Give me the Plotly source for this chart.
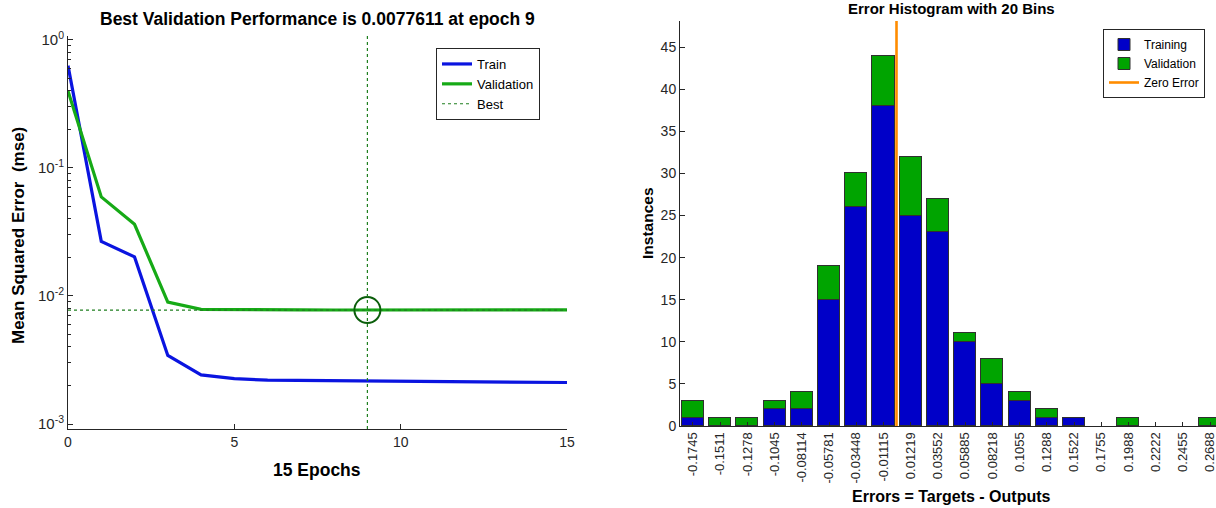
import plotly.graph_objects as go

# ---- training record (performance plot) ----
epochs = list(range(16))
train_mse = [0.63, 0.0267, 0.0202, 0.00343, 0.00242, 0.00226, 0.00220, 0.00219,
             0.00218, 0.00217, 0.00216, 0.00215, 0.00214, 0.00213, 0.00212, 0.00211]
val_mse = [0.40, 0.0594, 0.0363, 0.00896, 0.00786, 0.00781, 0.00779, 0.00778,
           0.00777, 0.0077611, 0.00777, 0.00778, 0.00778, 0.00779, 0.00779, 0.00780]
best_epoch = 9
best_val = 0.0077611

# ---- error histogram ----
bin_labels = ["-0.1745", "-0.1511", "-0.1278", "-0.1045", "-0.08114", "-0.05781",
              "-0.03448", "-0.01115", "0.01219", "0.03552", "0.05885", "0.08218",
              "0.1055", "0.1288", "0.1522", "0.1755", "0.1988", "0.2222", "0.2455", "0.2688"]
train_counts = [1, 0, 0, 2, 2, 15, 26, 38, 25, 23, 10, 5, 3, 1, 1, 0, 0, 0, 0, 0]
val_counts = [2, 1, 1, 1, 2, 4, 4, 6, 7, 4, 1, 3, 1, 1, 0, 0, 1, 0, 0, 1]
bin_centers = [float(s) for s in bin_labels]

FONT = "Liberation Sans, Arial, sans-serif"
AX = "#262626"
W, H = 1216, 508


def px_x(p):
    return p / W


def px_y(p):
    return 1 - p / H


def edge_widths(counts):
    # empty bins get no outline so they stay invisible
    return [1 if c > 0 else 0 for c in counts]


fig = go.Figure()

# performance curves
fig.add_trace(go.Scatter(x=epochs, y=train_mse, mode="lines", name="Train",
                         line=dict(color="#0a14e0", width=3.2), legendrank=1,
                         xaxis="x", yaxis="y", legend="legend"))
fig.add_trace(go.Scatter(x=epochs, y=val_mse, mode="lines", name="Validation",
                         line=dict(color="#16aa16", width=3.2), legendrank=2,
                         xaxis="x", yaxis="y", legend="legend"))
fig.add_trace(go.Scatter(x=[epochs[0], epochs[-1]], y=[best_val, best_val], mode="lines",
                         name="Best", line=dict(color="#1f7f1f", width=1.2, dash="dot"),
                         legendrank=3, xaxis="x", yaxis="y", legend="legend"))
fig.add_trace(go.Scatter(x=[best_epoch], y=[best_val], mode="markers", showlegend=False,
                         marker=dict(symbol="circle-open", size=26,
                                     line=dict(color="#0b5e0b", width=2), color="#0b5e0b"),
                         xaxis="x", yaxis="y"))
fig.add_shape(type="line", xref="x", yref="y domain", x0=best_epoch, x1=best_epoch,
              y0=0, y1=1, line=dict(color="#1f7f1f", width=1.2, dash="dot"))

# histogram bars
bar_w = 0.0189
fig.add_trace(go.Bar(x=bin_centers, y=train_counts, name="Training", width=bar_w,
                     marker=dict(color="#0000c8",
                                 line=dict(color="#303030", width=edge_widths(train_counts))),
                     xaxis="x2", yaxis="y2", legend="legend2"))
fig.add_trace(go.Bar(x=bin_centers, y=val_counts, name="Validation", width=bar_w,
                     marker=dict(color="#00a400",
                                 line=dict(color="#303030", width=edge_widths(val_counts))),
                     xaxis="x2", yaxis="y2", legend="legend2"))
fig.add_shape(type="line", xref="x2", yref="y2 domain", x0=0, x1=0, y0=0, y1=1,
              line=dict(color="#ff8c00", width=2.6), showlegend=True,
              name="Zero Error", legend="legend2")

# minor tick positions on the log axis
minor_vals = [m * 10.0 ** e for e in (-3, -2, -1) for m in range(2, 10)]

axis_common = dict(showline=True, linecolor=AX, linewidth=1, showgrid=False,
                   zeroline=False, ticks="inside", tickcolor=AX, automargin=False)


def tf(size):
    return dict(family=FONT, size=size, color=AX)


fig.update_layout(
    width=W, height=H,
    margin=dict(l=0, r=0, t=0, b=0),
    paper_bgcolor="white", plot_bgcolor="white",
    barmode="stack", bargap=0,
    font=dict(family=FONT, color="#000000"),
    xaxis=dict(domain=[px_x(68), px_x(567)], range=[0, 15], tickvals=[0, 5, 10, 15],
               ticklen=5, anchor="y", tickfont=tf(14), **axis_common),
    yaxis=dict(type="log", domain=[px_y(429), px_y(36)], range=[-3.039, 0.031],
               tickvals=[1, 0.1, 0.01, 0.001],
               ticktext=["10<sup>0</sup>", "10<sup>-1</sup>", "10<sup>-2</sup>", "10<sup>-3</sup>"],
               ticklen=5, anchor="x", tickfont=tf(15),
               minor=dict(ticks="inside", ticklen=3, tickcolor=AX, tickvals=minor_vals),
               **axis_common),
    xaxis2=dict(domain=[px_x(680), 1.0], range=[-0.1856, 0.2739], tickvals=bin_centers,
                ticktext=bin_labels, tickangle=-90, ticklen=4, anchor="y2",
                ticklabeloverflow="allow", tickfont=tf(13), **axis_common),
    yaxis2=dict(domain=[px_y(426), px_y(21)], range=[0, 48.1], dtick=5, ticklen=5,
                anchor="x2", tickfont=tf(14), **axis_common),
    legend=dict(x=px_x(436), y=px_y(48), xanchor="left", yanchor="top",
                bgcolor="white", bordercolor=AX, borderwidth=1,
                font=dict(family=FONT, size=13, color="#000000"),
                traceorder="normal", itemwidth=30),
    legend2=dict(x=px_x(1103), y=px_y(29), xanchor="left", yanchor="top",
                 bgcolor="white", bordercolor=AX, borderwidth=1,
                 font=dict(family=FONT, size=12, color="#000000"),
                 traceorder="normal", itemwidth=30),
)

annots = [
    dict(text="<b>Best Validation Performance is 0.0077611 at epoch 9</b>",
         x=px_x(317), y=px_y(19), size=17.5, angle=0),
    dict(text="<b>15 Epochs</b>", x=px_x(317), y=px_y(470), size=17.5, angle=0),
    dict(text="<b>Mean Squared Error  (mse)</b>", x=px_x(18), y=px_y(236), size=17, angle=-90),
    dict(text="<b>Error Histogram with 20 Bins</b>", x=px_x(951), y=px_y(9), size=15, angle=0),
    dict(text="<b>Instances</b>", x=px_x(647), y=px_y(223), size=15.5, angle=-90),
    dict(text="<b>Errors = Targets - Outputs</b>", x=px_x(951), y=px_y(496), size=16, angle=0),
]
for a in annots:
    fig.add_annotation(text=a["text"], x=a["x"], y=a["y"], xref="paper", yref="paper",
                       xanchor="center", yanchor="middle", showarrow=False,
                       textangle=a["angle"], font=dict(family=FONT, size=a["size"], color="#000000"))

fig.write_html("out.html")
